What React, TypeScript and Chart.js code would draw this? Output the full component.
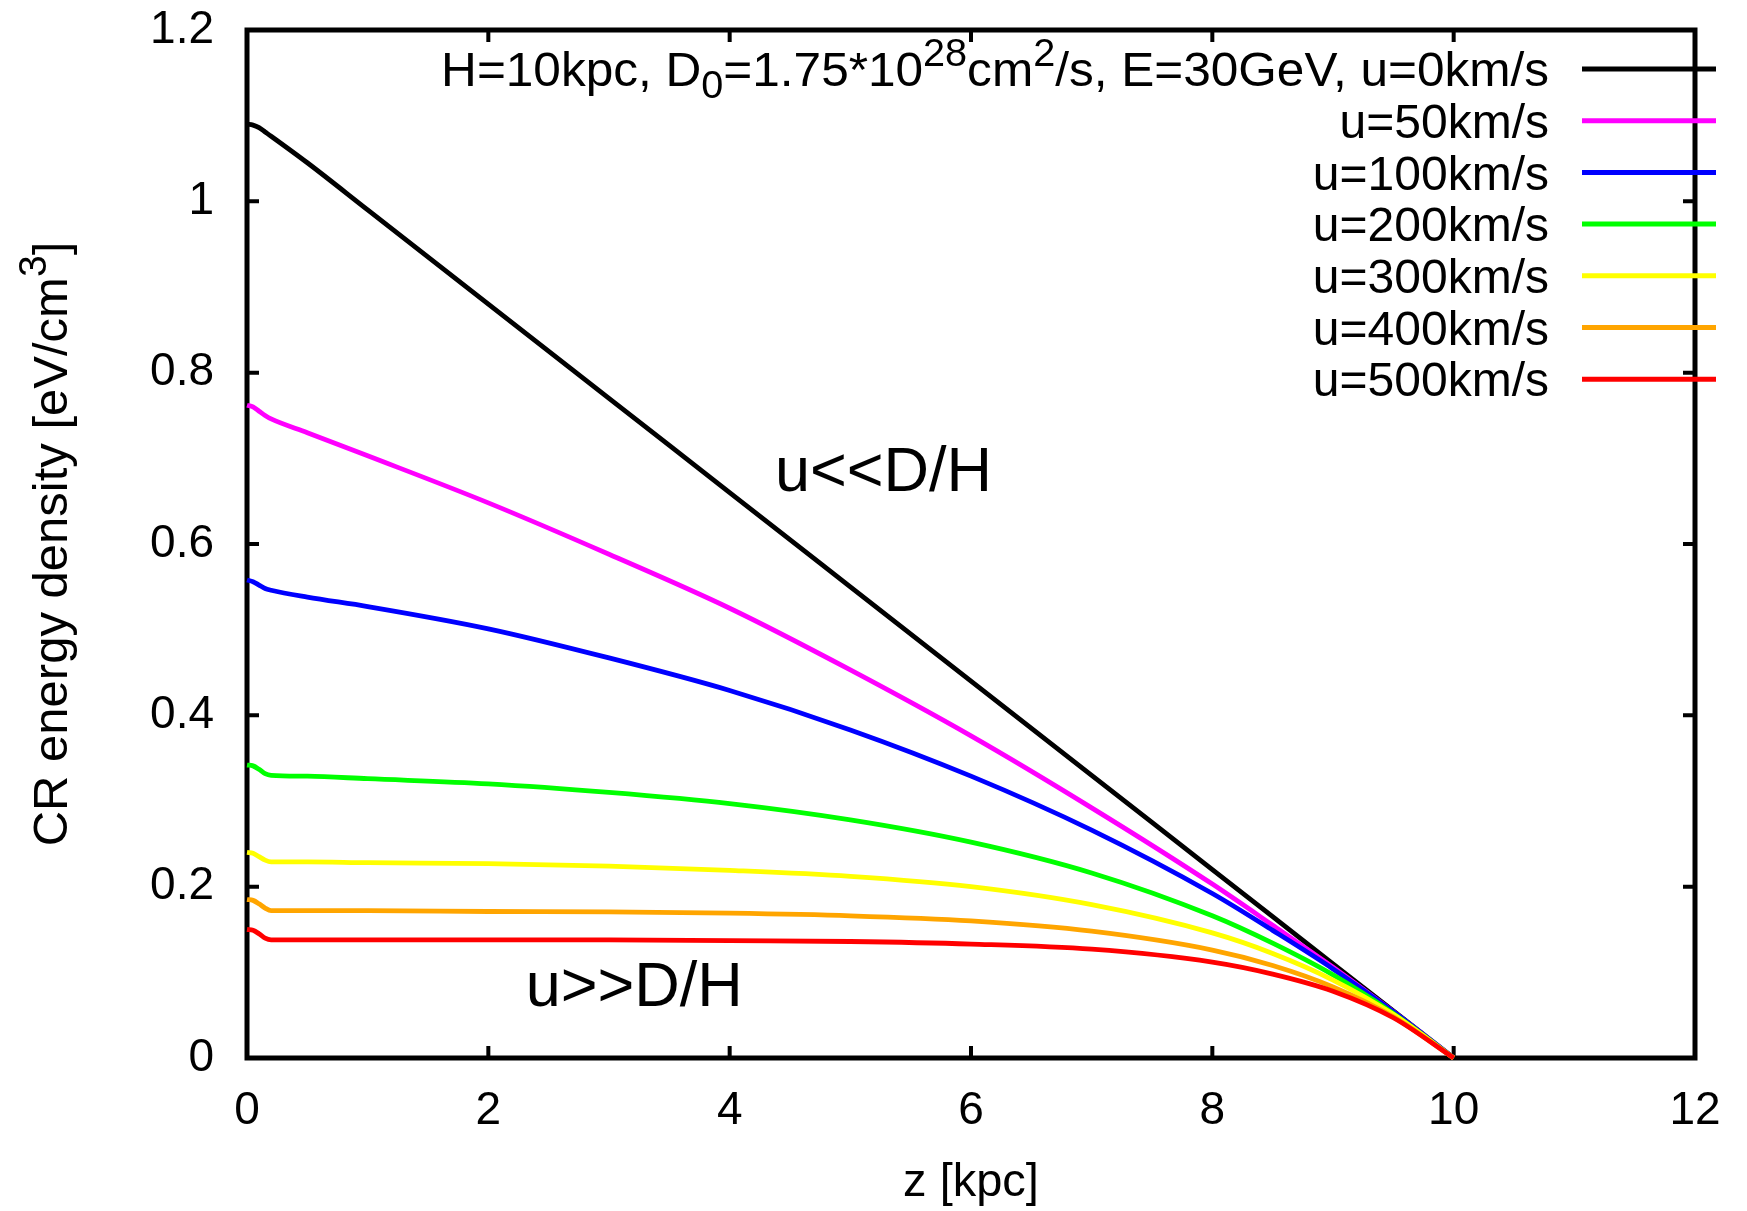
import React, { useEffect, useRef } from "react";
import { Chart, registerables } from "chart.js";

Chart.register(...registerables);

// ---- data ----
const zKpc = [0, 0.05, 0.1, 0.15, 0.2, 0.5, 1, 2, 3, 4, 5, 6, 7, 8, 8.5, 9, 9.5, 10];

const u0 = [1.09, 1.089, 1.086, 1.081, 1.076, 1.045, 0.99, 0.88, 0.77, 0.66, 0.55, 0.44, 0.33, 0.22, 0.165, 0.11, 0.055, 0];
const u50 = [0.762, 0.76, 0.755, 0.75, 0.746, 0.73, 0.703, 0.648, 0.588, 0.525, 0.453, 0.376, 0.292, 0.203, 0.155, 0.106, 0.054, 0];
const u100 = [0.558, 0.556, 0.552, 0.548, 0.546, 0.538, 0.527, 0.501, 0.467, 0.429, 0.383, 0.329, 0.266, 0.192, 0.149, 0.104, 0.054, 0];
const u200 = [0.342, 0.341, 0.337, 0.332, 0.33, 0.329, 0.326, 0.32, 0.31, 0.297, 0.278, 0.252, 0.216, 0.166, 0.134, 0.097, 0.052, 0];
const u300 = [0.24, 0.239, 0.235, 0.231, 0.229, 0.229, 0.228, 0.227, 0.224, 0.219, 0.212, 0.2, 0.179, 0.146, 0.122, 0.091, 0.051, 0];
const u400 = [0.185, 0.184, 0.18, 0.175, 0.172, 0.172, 0.172, 0.171, 0.1705, 0.169, 0.166, 0.16, 0.148, 0.126, 0.108, 0.083, 0.048, 0];
const u500 = [0.15, 0.149, 0.145, 0.14, 0.138, 0.138, 0.138, 0.138, 0.138, 0.137, 0.136, 0.133, 0.127, 0.112, 0.098, 0.078, 0.047, 0];

const seriesValues = [u0, u50, u100, u200, u300, u400, u500];
const seriesLabels = ["u=0km/s", "u=50km/s", "u=100km/s", "u=200km/s", "u=300km/s", "u=400km/s", "u=500km/s"];
const seriesColors = ["#000000", "#ff00ff", "#0000ff", "#00ff00", "#ffff00", "#ffa500", "#ff0000"];

// header text preceding the first legend entry (rich text pieces)
const headerParts = [
  { t: "H=10kpc, D", k: "n" },
  { t: "0", k: "sub" },
  { t: "=1.75*10", k: "n" },
  { t: "28", k: "sup" },
  { t: "cm", k: "n" },
  { t: "2", k: "sup" },
  { t: "/s, E=30GeV, ", k: "n" },
];

const xTickValues = [0, 2, 4, 6, 8, 10, 12];
const yTickValues = [0, 0.2, 0.4, 0.6, 0.8, 1.0, 1.2];

const xTitle = "z [kpc]";
const yTitleParts = [
  { t: "CR energy density [eV/cm", k: "n" },
  { t: "3", k: "sup" },
  { t: "]", k: "n" },
];

const annotations = [
  { text: "u<<D/H", z: 4.375, v: 0.662 },
  { text: "u>>D/H", z: 2.31, v: 0.061 },
];

// ---- styling ----
const FONT = "'Liberation Sans', Arial, Helvetica, sans-serif";
const W = 1747;
const H = 1211;
const SMALL = 0.8;

type Part = { t: string; k: string };

function richWidth(ctx: CanvasRenderingContext2D, parts: Part[], size: number) {
  let w = 0;
  for (const p of parts) {
    const s = p.k === "n" ? size : size * SMALL;
    ctx.font = `${s}px ${FONT}`;
    w += ctx.measureText(p.t).width;
  }
  return w;
}

function drawRich(ctx: CanvasRenderingContext2D, parts: Part[], x: number, base: number, size: number) {
  let cx = x;
  for (const p of parts) {
    const s = p.k === "n" ? size : size * SMALL;
    ctx.font = `${s}px ${FONT}`;
    const dy = p.k === "sup" ? -size * 0.42 : p.k === "sub" ? size * 0.24 : 0;
    ctx.fillText(p.t, cx, base + dy);
    cx += ctx.measureText(p.t).width;
  }
}

const framePlugin = {
  id: "gnuFrame",
  beforeDatasetsDraw(chart: any) {
    const { ctx, chartArea: a, scales } = chart;
    ctx.save();
    ctx.strokeStyle = "#000";
    ctx.lineWidth = 4;
    ctx.lineCap = "butt";
    const tl = 12;
    ctx.beginPath();
    for (const v of xTickValues) {
      const px = scales.x.getPixelForValue(v);
      ctx.moveTo(px, a.bottom);
      ctx.lineTo(px, a.bottom - tl);
      ctx.moveTo(px, a.top);
      ctx.lineTo(px, a.top + tl);
    }
    for (const v of yTickValues) {
      const py = scales.y.getPixelForValue(v);
      ctx.moveTo(a.left, py);
      ctx.lineTo(a.left + tl, py);
      ctx.moveTo(a.right, py);
      ctx.lineTo(a.right - tl, py);
    }
    ctx.stroke();
    ctx.lineWidth = 5;
    ctx.strokeRect(a.left, a.top, a.right - a.left, a.bottom - a.top);

    // y axis title (rotated, with real superscript)
    const ts = 49;
    ctx.fillStyle = "#000";
    ctx.textAlign = "left";
    ctx.textBaseline = "alphabetic";
    const tw = richWidth(ctx, yTitleParts, ts);
    ctx.translate(49 + ts * 0.36, (a.top + a.bottom) / 2);
    ctx.rotate(-Math.PI / 2);
    drawRich(ctx, yTitleParts, -tw / 2, 0, ts);
    ctx.restore();
  },
  afterDatasetsDraw(chart: any) {
    const { ctx, chartArea: a, scales } = chart;
    ctx.save();
    ctx.fillStyle = "#000";
    // annotations
    ctx.font = `63px ${FONT}`;
    ctx.textAlign = "left";
    ctx.textBaseline = "alphabetic";
    for (const an of annotations) {
      ctx.fillText(an.text, scales.x.getPixelForValue(an.z), scales.y.getPixelForValue(an.v));
    }
    // legend
    const size = 48;
    const textRight = a.right - 146;
    const lineX0 = a.right - 113;
    const lineX1 = a.right + 21;
    const row0 = a.top + 39;
    const rowStep = 51.7;
    for (let i = 0; i < seriesLabels.length; i++) {
      const y = row0 + i * rowStep;
      const base = y + size * 0.36;
      ctx.fillStyle = "#000";
      ctx.textAlign = "left";
      ctx.textBaseline = "alphabetic";
      const parts = i === 0 ? [...headerParts, { t: seriesLabels[i], k: "n" }] : [{ t: seriesLabels[i], k: "n" }];
      const sx = i === 0 ? 1.032 : 1;
      const w = richWidth(ctx, parts, size);
      ctx.save();
      ctx.translate(textRight, 0);
      ctx.scale(sx, 1);
      drawRich(ctx, parts, -w, base, size);
      ctx.restore();
      ctx.strokeStyle = seriesColors[i];
      ctx.lineWidth = 5;
      ctx.beginPath();
      ctx.moveTo(lineX0, y);
      ctx.lineTo(lineX1, y);
      ctx.stroke();
    }
    ctx.restore();
  },
};

export default function App() {
  const ref = useRef<HTMLCanvasElement | null>(null);

  useEffect(() => {
    const canvas = ref.current;
    if (!canvas) return;
    const datasets = seriesValues.map((vals, i) => ({
      label: seriesLabels[i],
      data: zKpc.map((z, j) => ({ x: z, y: vals[j] })),
      borderColor: seriesColors[i],
      backgroundColor: seriesColors[i],
      borderWidth: 4.8,
      pointRadius: 0,
      fill: false,
      cubicInterpolationMode: "monotone" as const,
      order: seriesValues.length - i,
      clip: 6,
    }));
    const chart = new Chart(canvas, {
      type: "line",
      data: { datasets },
      options: {
        responsive: false,
        animation: false,
        devicePixelRatio: 1,
        layout: { padding: { top: 30, right: 52, left: 0, bottom: 0 } },
        plugins: { legend: { display: false }, tooltip: { enabled: false }, title: { display: false } },
        scales: {
          x: {
            type: "linear",
            min: 0,
            max: 12,
            afterBuildTicks: (scale: any) => {
              scale.ticks = xTickValues.map((v) => ({ value: v }));
            },
            afterFit: (scale: any) => {
              scale.height = 153;
              scale.paddingLeft = 0;
              scale.paddingRight = 0;
              scale.paddingTop = 0;
              scale.paddingBottom = 0;
            },
            grid: { display: false, drawTicks: false, tickLength: 0 },
            border: { display: false },
            ticks: {
              color: "#000",
              padding: 26,
              maxRotation: 0,
              font: { family: FONT, size: 46 },
              callback: (v: any) => String(Number(Number(v).toFixed(1))),
            },
            title: {
              display: true,
              text: xTitle,
              color: "#000",
              font: { family: FONT, size: 47 },
              padding: { top: 0, bottom: 0 },
            },
          },
          y: {
            type: "linear",
            min: 0,
            max: 1.2,
            afterBuildTicks: (scale: any) => {
              scale.ticks = yTickValues.map((v) => ({ value: v }));
            },
            afterFit: (scale: any) => {
              scale.width = 247;
              scale.paddingLeft = 0;
              scale.paddingRight = 0;
              scale.paddingTop = 0;
              scale.paddingBottom = 0;
            },
            grid: { display: false, drawTicks: false, tickLength: 0 },
            border: { display: false },
            ticks: {
              color: "#000",
              padding: 33,
              font: { family: FONT, size: 46 },
              callback: (v: any) => String(Number(Number(v).toFixed(1))),
            },
            title: { display: false },
          },
        },
      },
      plugins: [framePlugin],
    });
    return () => chart.destroy();
  }, []);

  return (
    <div style={{ position: "fixed", left: 0, top: 0, width: W, height: H, background: "#fff" }}>
      <canvas ref={ref} width={W} height={H} style={{ width: W, height: H, display: "block" }} />
    </div>
  );
}
